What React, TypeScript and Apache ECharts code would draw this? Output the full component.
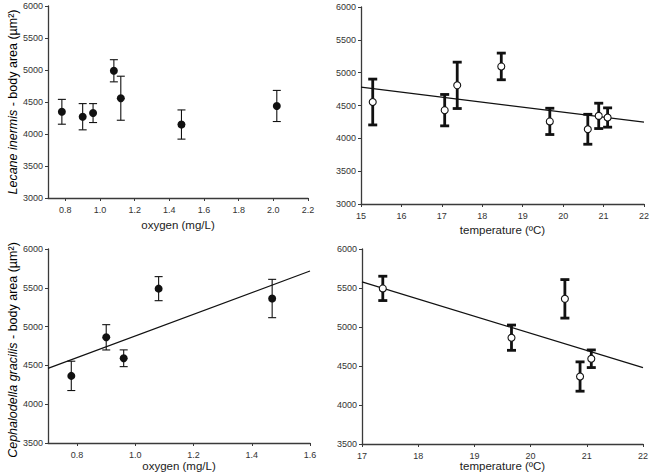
import React, { useEffect, useRef } from "react";
import * as echarts from "echarts";

// Panel A: Lecane inermis vs oxygen
const oxyA = [0.78, 0.9, 0.96, 1.08, 1.12, 1.47, 2.02];
const meanA = [4347, 4270, 4327, 4988, 4559, 4148, 4438];
const errA = [194, 205, 148, 173, 344, 228, 243];

// Panel B: Lecane inermis vs temperature
const tempB = [15.29, 17.07, 17.38, 18.47, 19.67, 20.61, 20.88, 21.1];
const meanB = [4553, 4429, 4807, 5095, 4258, 4138, 4342, 4317];
const errB = [349, 239, 353, 203, 200, 228, 193, 147];
const trendB = [[15, 4780], [22, 4246]];

// Panel C: Cephalodella gracilis vs oxygen
const oxyC = [0.78, 0.9, 0.96, 1.08, 1.47];
const meanC = [4365, 4862, 4592, 5489, 5362];
const errC = [189, 163, 108, 155, 247];
const trendC = [[0.7, 4462], [1.6, 5717]];

// Panel D: Cephalodella gracilis vs temperature
const tempD = [17.37, 19.66, 20.61, 20.88, 21.08];
const meanD = [5495, 4863, 5361, 4365, 4593];
const errD = [156, 162, 247, 188, 113];
const trendD = [[17, 5578], [22, 4480]];

const oxyTicksA = [0.8, 1.0, 1.2, 1.4, 1.6, 1.8, 2.0, 2.2];
const oxyTicksC = [0.8, 1.0, 1.2, 1.4, 1.6];

const FONT = "'Liberation Sans', Arial, sans-serif";
const AXIS_COLOR = "#3a3a3a";

function errSeries(xs: number[], ms: number[], es: number[], idx: number, thick: boolean) {
  const lw = thick ? 2.8 : 1.1;
  const cap = thick ? 4.5 : 4;
  return {
    type: "custom",
    xAxisIndex: idx,
    yAxisIndex: idx,
    data: xs.map((x, i) => [x, ms[i] - es[i], ms[i] + es[i]]),
    encode: { x: 0, y: [1, 2] },
    z: 2,
    renderItem: (params: any, api: any) => {
      const x = api.value(0);
      const lo = api.coord([x, api.value(1)]);
      const hi = api.coord([x, api.value(2)]);
      const style = { stroke: "#111", lineWidth: lw };
      return {
        type: "group",
        children: [
          { type: "line", shape: { x1: hi[0], y1: hi[1], x2: lo[0], y2: lo[1] }, style },
          { type: "line", shape: { x1: hi[0] - cap, y1: hi[1], x2: hi[0] + cap, y2: hi[1] }, style },
          { type: "line", shape: { x1: lo[0] - cap, y1: lo[1], x2: lo[0] + cap, y2: lo[1] }, style },
        ],
      };
    },
  };
}

function pointSeries(xs: number[], ms: number[], idx: number, open: boolean) {
  return {
    type: "scatter",
    xAxisIndex: idx,
    yAxisIndex: idx,
    data: xs.map((x, i) => [x, ms[i]]),
    symbol: "circle",
    symbolSize: open ? 7 : 8,
    z: 3,
    itemStyle: open
      ? { color: "#fff", borderColor: "#111", borderWidth: 1.1, opacity: 1 }
      : { color: "#111", borderWidth: 0, opacity: 1 },
  };
}

function trendSeries(pts: number[][], idx: number) {
  return {
    type: "line",
    xAxisIndex: idx,
    yAxisIndex: idx,
    data: pts,
    symbol: "none",
    z: 1,
    lineStyle: { color: "#111", width: 1.2 },
  };
}

const axisCommon = {
  axisLine: { show: true, onZero: false, lineStyle: { color: AXIS_COLOR, width: 1.3 } },
  axisTick: { show: true, length: 3, lineStyle: { color: AXIS_COLOR } },
  splitLine: { show: false },
  axisLabel: { color: "#333", fontSize: 9, fontFamily: FONT },
};

function xAxis(idx: number, min: number, max: number, name: string, gap: number, custom?: number[]) {
  const base: any = {
    type: "value",
    gridIndex: idx,
    min,
    max,
    name,
    nameLocation: "middle",
    nameGap: gap,
    nameMoveOverlap: false,
    nameTextStyle: { color: "#222", fontSize: 11.5, fontFamily: FONT, verticalAlign: "top" },
    ...axisCommon,
  };
  if (custom) {
    base.axisLabel = {
      ...axisCommon.axisLabel,
      margin: 7,
      customValues: custom,
      formatter: (v: number) => v.toFixed(1),
    };
    base.axisTick = { ...axisCommon.axisTick, customValues: custom };
  } else {
    base.interval = 1;
    base.axisLabel = { ...axisCommon.axisLabel, margin: 7, formatter: (v: number) => String(v) };
  }
  return base;
}

function yAxis(idx: number, min: number) {
  return {
    type: "value",
    gridIndex: idx,
    min,
    max: 6000,
    interval: 500,
    ...axisCommon,
    axisLabel: { ...axisCommon.axisLabel, margin: 5, formatter: (v: number) => String(v) },
  };
}

export default function App() {
  const ref = useRef<HTMLDivElement>(null);
  useEffect(() => {
    if (!ref.current) return;
    const chart = echarts.init(ref.current, undefined, { renderer: "svg" });
    const rich = {
      i: { fontStyle: "italic", fontSize: 12.5, fontFamily: FONT, color: "#222" },
      n: { fontSize: 12.5, fontFamily: FONT, color: "#222" },
    };
    const g = { outerBoundsMode: "none", containLabel: false };
    chart.setOption({
      animation: false,
      backgroundColor: "#fff",
      grid: [
        { ...g, left: 48, top: 6, width: 260, height: 192 },
        { ...g, left: 361, top: 7, width: 283, height: 197 },
        { ...g, left: 48, top: 249, width: 262, height: 194 },
        { ...g, left: 362, top: 249, width: 281, height: 195 },
      ],
      xAxis: [
        xAxis(0, 0.7, 2.2, "oxygen (mg/L)", 21, oxyTicksA),
        xAxis(1, 15, 22, "temperature (ºC)", 20),
        xAxis(2, 0.7, 1.6, "oxygen (mg/L)", 17, oxyTicksC),
        xAxis(3, 17, 22, "temperature (ºC)", 16),
      ],
      yAxis: [yAxis(0, 3000), yAxis(1, 3000), yAxis(2, 3500), yAxis(3, 3500)],
      graphic: [
        {
          type: "text",
          x: 13,
          y: 102,
          rotation: Math.PI / 2,
          style: {
            text: "{i|Lecane inermis}{n| - body area (µm²)}",
            rich,
            align: "center",
            verticalAlign: "middle",
          },
        },
        {
          type: "text",
          x: 13,
          y: 350,
          rotation: Math.PI / 2,
          style: {
            text: "{i|Cephalodella gracilis}{n| - body area (µm²)}",
            rich,
            align: "center",
            verticalAlign: "middle",
          },
        },
      ],
      series: [
        errSeries(oxyA, meanA, errA, 0, false),
        pointSeries(oxyA, meanA, 0, false),
        trendSeries(trendB, 1),
        errSeries(tempB, meanB, errB, 1, true),
        pointSeries(tempB, meanB, 1, true),
        trendSeries(trendC, 2),
        errSeries(oxyC, meanC, errC, 2, false),
        pointSeries(oxyC, meanC, 2, false),
        trendSeries(trendD, 3),
        errSeries(tempD, meanD, errD, 3, true),
        pointSeries(tempD, meanD, 3, true),
      ],
    });
    return () => chart.dispose();
  }, []);
  return (
    <div
      ref={ref}
      style={{ position: "fixed", left: 0, top: 0, width: 651, height: 476, background: "#fff" }}
    />
  );
}
